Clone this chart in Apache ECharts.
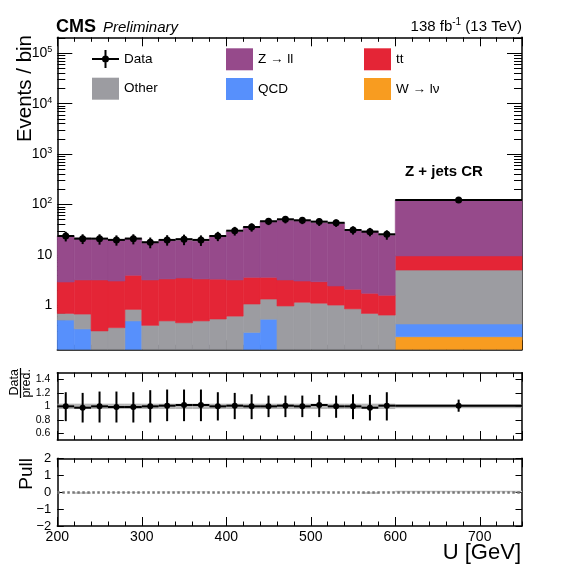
<!DOCTYPE html>
<html lang="en">
<head>
<meta charset="utf-8">
<title>Z + jets CR</title>
<script src="https://cdn.jsdelivr.net/npm/echarts@6/dist/echarts.min.js"></script>
<style>
    html, body {
        margin: 0px;
        padding: 0px;
        background: #fff;
    }
    #chart {
        width: 580px;
        height: 566px;
    }
</style>
</head>
<body>
<div id="chart"></div>
<script type="text/javascript">
    // bin edges (GeV): 20 GeV bins up to 600, then one wide bin up to 750
    var binEdges = [200, 220, 240, 260, 280, 300, 320, 340, 360, 380, 400,
                    420, 440, 460, 480, 500, 520, 540, 560, 580, 600, 750];

    // events per bin
    var dataVals  = [23.7, 21.0, 21.0, 19.8, 21.0, 17.8, 19.8, 20.5, 19.8, 23.7,
                     30.2, 35.7, 46.4, 50.8, 48.5, 45.7, 43.3, 31.2, 28.8, 25.6, 123];
    var zllVals   = [20.8, 18.2, 17.8, 17.0, 17.3, 14.6, 16.3, 16.6, 16.1, 20.4,
                     26.7, 32.1, 42.8, 47.1, 45.5, 41.9, 40.9, 29.1, 27.7, 23.7, 112.5];
    var ttVals    = [2.21, 2.51, 2.87, 2.67, 3.11, 2.78, 2.84, 3.03, 2.84, 2.77,
                     2.57, 2.53, 2.26, 2.21, 1.88, 1.84, 1.41, 1.23, 1.04, 0.94, 4.55];
    var otherVals = [0.18, 0.33, 0.31, 0.36, 0.34, 0.40, 0.49, 0.45, 0.49, 0.535,
                     0.61, 0.77, 0.80, 0.97, 1.15, 1.10, 1.01, 0.85, 0.69, 0.64, 4.57];
    var qcdVals   = [0.51, 0.34, 0, 0, 0.49, 0, 0, 0, 0, 0,
                     0, 0.29, 0.53, 0, 0, 0, 0, 0, 0, 0, 0.188];
    var wlnVals   = [0, 0, 0, 0, 0, 0, 0, 0, 0, 0,
                     0, 0, 0, 0, 0, 0, 0, 0, 0, 0, 0.238];

    // ratio panel
    var ratioVals  = [1.0, 0.98, 1.0, 0.99, 0.99, 1.0, 1.01, 1.02, 1.02, 1.0,
                      1.01, 1.0, 1.0, 1.01, 1.0, 1.02, 1.0, 1.0, 0.98, 1.01, 1.01];
    var ratioErrUp = [0.21, 0.22, 0.22, 0.23, 0.22, 0.24, 0.24, 0.23, 0.23, 0.21,
                      0.19, 0.18, 0.16, 0.15, 0.16, 0.15, 0.16, 0.18, 0.19, 0.20, 0.09];
    var ratioErrDn = [0.22, 0.22, 0.24, 0.23, 0.23, 0.24, 0.23, 0.24, 0.24, 0.21,
                      0.20, 0.19, 0.16, 0.17, 0.16, 0.18, 0.17, 0.19, 0.19, 0.22, 0.09];
    var mcRelErr   = [0.04, 0.04, 0.04, 0.04, 0.04, 0.04, 0.04, 0.04, 0.04, 0.04,
                      0.04, 0.04, 0.04, 0.04, 0.04, 0.04, 0.04, 0.04, 0.04, 0.04, 0.03];

    // pull panel
    var pullVals = [0, -0.1, 0, -0.03, -0.03, 0, 0.02, 0.03, 0.03, 0,
                    0.02, 0, 0, 0.02, 0, 0.03, 0, 0, -0.1, 0.02, 0.08];

    // axis ticks
    var logMajorTicks = [1, 10, 100, 1000, 10000, 100000];
    var logMinorMantissa = [2, 3, 4, 5, 6, 7, 8, 9];
    var logDecades = [0.1, 1, 10, 100, 1000, 10000, 100000];
    var ratioTicks = [0.6, 0.8, 1, 1.2, 1.4];
    var pullTicks = [-2, -1, 0, 1, 2];

    var Y_MIN = 0.134, Y_MAX = 2.07e5;
    var FONT = '"Liberation Sans", Arial, Helvetica, sans-serif';

    var logMinorTicks = [];
    logDecades.forEach(function (d) {
        logMinorMantissa.forEach(function (m) {
            var v = m * d;
            if (v > Y_MIN && v < Y_MAX) logMinorTicks.push(v);
        });
    });

    var nBins = binEdges.length - 1;
    var binLo = binEdges.slice(0, nBins);
    var binHi = binEdges.slice(1);

    var myChart = echarts.init(document.getElementById('chart'));

    function rectItem(color, strokeIt) {
        return function (params, api) {
            var y0 = api.value(2), y1 = api.value(3);
            if (!(y1 > y0)) return null;
            var a = api.coord([api.value(0), y1]);
            var b = api.coord([api.value(1), y0]);
            return {
                type: 'rect',
                shape: {x: a[0], y: a[1], width: b[0] - a[0], height: b[1] - a[1]},
                style: strokeIt ? {fill: color, stroke: color, lineWidth: 0.6} : {fill: color}
            };
        };
    }

    function pointItem(radius) {
        return function (params, api) {
            var y = api.value(3);
            var pl = api.coord([api.value(0), y]);
            var ph = api.coord([api.value(1), y]);
            var pc = api.coord([api.value(2), y]);
            var pu = api.coord([api.value(2), api.value(4)]);
            var pd = api.coord([api.value(2), api.value(5)]);
            return {
                type: 'group',
                children: [
                    {type: 'line', shape: {x1: pl[0], y1: pl[1], x2: ph[0], y2: ph[1]}, style: {stroke: '#000', lineWidth: 2}},
                    {type: 'line', shape: {x1: pu[0], y1: pu[1], x2: pd[0], y2: pd[1]}, style: {stroke: '#000', lineWidth: 2}},
                    {type: 'circle', shape: {cx: pc[0], cy: pc[1], r: radius}, style: {fill: '#000'}}
                ]
            };
        };
    }

    // stacked processes, bottom to top
    var layers = [
        {name: 'W \u2192 l\u03bd', color: '#f89c20', vals: wlnVals},
        {name: 'QCD', color: '#5790fc', vals: qcdVals},
        {name: 'Other', color: '#9c9ca1', vals: otherVals},
        {name: 'tt', color: '#e42536', vals: ttVals},
        {name: 'Z \u2192 ll', color: '#964a8b', vals: zllVals}
    ];

    var cum = binLo.map(function () { return 0; });
    var series = [];
    layers.forEach(function (layer) {
        var items = [];
        for (var i = 0; i < nBins; i++) {
            var lo = Math.max(cum[i], Y_MIN);
            var hi = cum[i] + layer.vals[i];
            items.push([binLo[i], binHi[i], lo, hi]);
            cum[i] = hi;
        }
        series.push({
            name: layer.name,
            type: 'custom',
            xAxisIndex: 0,
            yAxisIndex: 0,
            itemStyle: {color: layer.color},
            encode: {x: [0, 1], y: [2, 3]},
            renderItem: rectItem(layer.color, true),
            data: items,
            z: 2,
            silent: true
        });
    });

    // MC uncertainty band, data points, ratio and pull items
    var bandMain = [], bandRatio = [], mainPts = [], ratioPts = [], pullBars = [];
    for (var i = 0; i < nBins; i++) {
        var xc = (binLo[i] + binHi[i]) / 2;
        bandMain.push([binLo[i], binHi[i], cum[i] * (1 - mcRelErr[i]), cum[i] * (1 + mcRelErr[i])]);
        bandRatio.push([binLo[i], binHi[i], 1 - mcRelErr[i], 1 + mcRelErr[i]]);
        mainPts.push([binLo[i], binHi[i], xc, dataVals[i],
                      dataVals[i] * (1 + ratioErrUp[i]), dataVals[i] * (1 - ratioErrDn[i])]);
        ratioPts.push([binLo[i], binHi[i], xc, ratioVals[i],
                       ratioVals[i] + ratioErrUp[i], ratioVals[i] - ratioErrDn[i]]);
        pullBars.push([binLo[i], binHi[i], Math.min(0, pullVals[i]), Math.max(0, pullVals[i])]);
    }

    series.push({
        name: 'mcband', type: 'custom', xAxisIndex: 0, yAxisIndex: 0,
        encode: {x: [0, 1], y: [2, 3]},
        renderItem: rectItem('rgba(165,165,165,0.8)', false),
        data: bandMain, z: 3, silent: true
    });
    series.push({
        name: 'Data', type: 'custom', xAxisIndex: 0, yAxisIndex: 0,
        itemStyle: {color: '#000'},
        encode: {x: [0, 1, 2], y: [3, 4, 5]},
        renderItem: pointItem(3.5),
        data: mainPts, z: 5, silent: true
    });
    series.push({
        name: 'ratioband', type: 'custom', xAxisIndex: 4, yAxisIndex: 4,
        encode: {x: [0, 1], y: [2, 3]},
        renderItem: rectItem('rgba(150,150,150,0.7)', false),
        data: bandRatio, z: 3, silent: true
    });
    series.push({
        name: 'ratio', type: 'custom', xAxisIndex: 4, yAxisIndex: 4,
        encode: {x: [0, 1, 2], y: [3, 4, 5]},
        renderItem: pointItem(3),
        data: ratioPts, z: 5, silent: true
    });
    series.push({
        name: 'pull', type: 'custom', xAxisIndex: 8, yAxisIndex: 6,
        encode: {x: [0, 1], y: [2, 3]},
        renderItem: rectItem('#c4c4c4', false),
        data: pullBars, z: 3, silent: true,
        markLine: {
            silent: true,
            symbol: ['none', 'none'],
            label: {show: false},
            lineStyle: {color: '#777', type: [2.5, 2.5], width: 2.5},
            data: [{yAxis: 0}]
        }
    });

    var lineBlack = {show: true, onZero: false, lineStyle: {color: '#000', width: 1.5}};

    function xAxesFor(grid, showLabels) {
        function ax(pos, interval, len, line, labels) {
            return {
                type: 'value', gridIndex: grid, position: pos,
                min: 200, max: 750, interval: interval,
                splitLine: {show: false},
                axisLine: line ? lineBlack : {show: false, onZero: false},
                axisTick: {show: true, inside: true, length: len, lineStyle: {color: '#000', width: 1}},
                axisLabel: {
                    show: labels, margin: 4, color: '#000', fontSize: 14, fontFamily: FONT,
                    showMaxLabel: false
                }
            };
        }
        return [
            ax('bottom', 100, 9, true, showLabels),
            ax('bottom', 20, 4.5, false, false),
            ax('top', 100, 9, true, false),
            ax('top', 20, 4.5, false, false)
        ];
    }

    var logLabel = {
        color: '#000', fontSize: 14, fontFamily: FONT, margin: 5,
        customValues: logMajorTicks,
        formatter: function (v) {
            var n = Math.round(Math.log10(v));
            if (n === 0) return '1';
            if (n === 1) return '10';
            return '10{sup|' + n + '}';
        },
        rich: {sup: {fontSize: 9, verticalAlign: 'top', fontFamily: FONT, color: '#000', padding: [0, 0, 7, 0]}}
    };

    function logAxis(pos, ticks, len, line, labels) {
        return {
            type: 'log', gridIndex: 0, position: pos, logBase: 10,
            min: Y_MIN, max: Y_MAX,
            splitLine: {show: false},
            axisLine: line ? lineBlack : {show: false},
            axisTick: {show: true, inside: true, length: len, customValues: ticks, lineStyle: {color: '#000', width: 1}},
            axisLabel: labels ? logLabel : {show: false}
        };
    }

    function linAxis(grid, pos, min, max, ticks, fontSize, margin, labels, fmt) {
        return {
            type: 'value', gridIndex: grid, position: pos, min: min, max: max,
            splitLine: {show: false},
            axisLine: lineBlack,
            axisTick: {show: true, inside: true, length: 6.5, customValues: ticks, lineStyle: {color: '#000', width: 1}},
            axisLabel: labels ? {
                color: '#000', fontSize: fontSize, fontFamily: FONT, margin: margin,
                customValues: ticks, formatter: fmt
            } : {show: false}
        };
    }

    var legendText = {color: '#000', fontSize: 13.5, fontFamily: FONT};

    var option = {
        animation: false,
        backgroundColor: '#fff',
        grid: [
            {left: 57.3, top: 37.3, width: 464.7, height: 312},
            {left: 57.3, top: 372.7, width: 464.7, height: 67.3},
            {left: 57.3, top: 458.3, width: 464.7, height: 67.7}
        ],
        xAxis: [].concat(xAxesFor(0, false), xAxesFor(1, false), xAxesFor(2, true)),
        yAxis: [
            logAxis('left', logMajorTicks, 15, true, true),
            logAxis('left', logMinorTicks, 8, false, false),
            logAxis('right', logMajorTicks, 15, true, false),
            logAxis('right', logMinorTicks, 8, false, false),
            linAxis(1, 'left', 0.5, 1.5, ratioTicks, 10.5, 7, true, function (v) { return String(v); }),
            linAxis(1, 'right', 0.5, 1.5, ratioTicks, 10.5, 7, false),
            linAxis(2, 'left', -2, 2, pullTicks, 13, 6, true, function (v) {
                return v < 0 ? '\u2212' + (-v) : String(v);
            }),
            linAxis(2, 'right', -2, 2, pullTicks, 13, 6, false)
        ],
        legend: [
            {
                left: 92, top: 50, orient: 'vertical', padding: 0, itemWidth: 27, itemHeight: 18,
                selectedMode: false, textStyle: legendText,
                data: [{name: 'Data', icon: 'path://M0,8 H27 V10 H0 Z M12.5,0 H14.5 V18 H12.5 Z M17,9 A3.5,3.5 0 1,1 10,9 A3.5,3.5 0 1,1 17,9 Z'}]
            },
            {
                left: 92, top: 77.7, orient: 'vertical', padding: 0, itemWidth: 27, itemHeight: 22,
                selectedMode: false, textStyle: legendText,
                data: [{name: 'Other', icon: 'rect'}]
            },
            {
                left: 226, top: 48.3, orient: 'vertical', padding: 0, itemWidth: 27, itemHeight: 22, itemGap: 7.7,
                selectedMode: false, textStyle: legendText,
                data: [{name: 'Z \u2192 ll', icon: 'rect'}, {name: 'QCD', icon: 'rect'}]
            },
            {
                left: 364, top: 48.3, orient: 'vertical', padding: 0, itemWidth: 27, itemHeight: 22, itemGap: 7.7,
                selectedMode: false, textStyle: legendText,
                data: [{name: 'tt', icon: 'rect'}, {name: 'W \u2192 l\u03bd', icon: 'rect'}]
            }
        ],
        graphic: [
            {type: 'text', x: 56, y: 27, style: {text: 'CMS', font: 'bold 18px ' + FONT, fill: '#000', verticalAlign: 'middle'}},
            {type: 'text', x: 103, y: 27.5, style: {text: 'Preliminary', font: 'italic 15px ' + FONT, fill: '#000', verticalAlign: 'middle'}},
            {
                type: 'text', x: 522, y: 26.5,
                style: {
                    text: '138 fb{sup|-1} (13 TeV)', font: '15px ' + FONT, fill: '#000',
                    align: 'right', verticalAlign: 'middle',
                    rich: {sup: {fontSize: 10, fontFamily: FONT, fill: '#000', verticalAlign: 'top', padding: [0, 0, 8, 0]}}
                }
            },
            {type: 'text', x: 405, y: 172, style: {text: 'Z + jets CR', font: 'bold 15px ' + FONT, fill: '#000', verticalAlign: 'middle'}},
            {type: 'text', x: 25, y: 35, rotation: Math.PI / 2, style: {text: 'Events / bin', font: '20.5px ' + FONT, fill: '#000', align: 'right', verticalAlign: 'middle'}},
            {type: 'text', x: 14.5, y: 369, rotation: Math.PI / 2, style: {text: 'Data', font: '12.5px ' + FONT, fill: '#000', align: 'right', verticalAlign: 'middle'}},
            {type: 'text', x: 27, y: 369, rotation: Math.PI / 2, style: {text: 'pred.', font: '12.5px ' + FONT, fill: '#000', align: 'right', verticalAlign: 'middle'}},
            {type: 'line', shape: {x1: 20.5, y1: 368, x2: 20.5, y2: 398}, style: {stroke: '#000', lineWidth: 1.2}},
            {type: 'text', x: 27, y: 458, rotation: Math.PI / 2, style: {text: 'Pull', font: '19px ' + FONT, fill: '#000', align: 'right', verticalAlign: 'middle'}},
            {type: 'text', x: 521, y: 553, style: {text: 'U [GeV]', font: '22px ' + FONT, fill: '#000', align: 'right', verticalAlign: 'middle'}}
        ],
        series: series
    };

    myChart.setOption(option, true);
</script>
</body>
</html>
